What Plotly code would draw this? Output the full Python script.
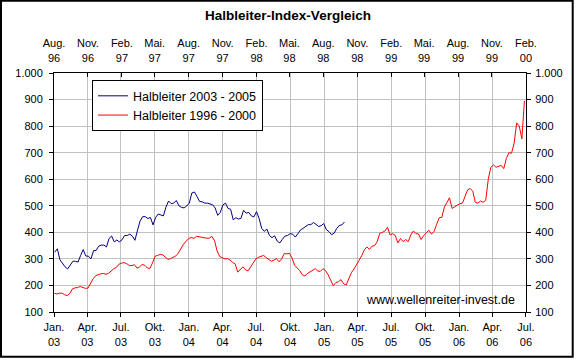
import pandas as pd
import plotly.graph_objects as go

# ---------------- data ----------------
blue_name = "Halbleiter 2003 - 2005"
red_name = "Halbleiter 1996 - 2000"

# weekly closes, 2003 - 2005 (bottom time axis)
blue_start = "2003-01-03"
blue_values = [
    325, 338, 297, 284, 270, 262, 278, 291, 291, 288,
    313, 335, 311, 310, 300, 331, 332, 348, 352, 352,
    345, 377, 386, 364, 371, 364, 372, 388, 388, 393,
    386, 370, 408, 443, 459, 459, 452, 456, 428, 456,
    469, 464, 462, 495, 518, 508, 510, 520, 500, 494,
    492, 499, 510, 548, 552, 535,
    516, 515, 510, 510, 507, 504, 492, 464, 475, 503,
    510, 490, 487, 447, 455, 450, 453, 483, 472, 475,
    462, 458, 478, 452, 415, 404, 412, 388, 380, 387,
    367, 360, 374, 386, 388, 395, 393, 382, 395, 409,
    415, 422, 429, 429, 437, 430, 422, 425, 433, 410,
    403, 391, 397, 414, 426, 428, 439,
]

# weekly closes, 1996 - 2000 (top time axis)
red_start = "1996-08-02"
red_values = [
    171, 168, 171, 171, 165, 162, 170, 187, 191, 192,
    196, 193, 189, 190, 210, 225, 237, 241, 244, 245,
    242, 246, 255, 263, 268, 280, 284, 286, 282, 275,
    275, 278, 265, 270, 279, 276, 266, 264, 285, 310,
    313, 317, 315, 305, 298, 301, 306, 311, 322, 340,
    355, 367, 376, 381, 377, 385,
    383, 382, 378, 378, 378, 385, 369, 330, 309, 305,
    300, 301, 296, 287, 281, 250, 262, 270, 259, 255,
    270, 284, 300, 306, 309, 313, 305, 298, 291, 295,
    301, 289, 300, 320, 319, 321, 304, 276, 265, 256,
    240, 236, 245, 250, 256, 263, 254, 253, 263, 256,
    240, 217, 199, 211, 214, 222, 206, 202,
    226, 248, 262, 276, 295, 312, 334, 345, 336, 348,
    350, 365, 397, 400, 405, 419, 390, 395, 388, 360,
    377, 365, 373, 365, 390, 405, 395, 394, 373, 388,
    400, 408, 393, 403, 430, 455, 456, 495, 512, 530,
    490, 496, 500, 508, 510, 533, 560, 565, 555, 512,
    510, 518, 513, 520, 600, 645, 654, 645, 648, 652,
    640, 678, 700, 698, 735, 812, 800, 752, 895,
]

bottom_range = ["2003-01-01", "2006-07-01 06:00"]
bottom_tick_dates = [
    "2003-01-01", "2003-04-01", "2003-07-01", "2003-10-01",
    "2004-01-01", "2004-04-01", "2004-07-01", "2004-10-01",
    "2005-01-01", "2005-04-01", "2005-07-01", "2005-10-01",
    "2006-01-01", "2006-04-01", "2006-07-01",
]
bottom_tick_labels = [
    "Jan.<br>03", "Apr.<br>03", "Jul.<br>03", "Okt.<br>03",
    "Jan.<br>04", "Apr.<br>04", "Jul.<br>04", "Okt.<br>04",
    "Jan.<br>05", "Apr.<br>05", "Jul.<br>05", "Okt.<br>05",
    "Jan.<br>06", "Apr.<br>06", "Jul.<br>06",
]

top_range = ["1996-08-01", "2000-02-01 06:00"]
top_tick_dates = [
    "1996-08-01", "1996-11-01", "1997-02-01", "1997-05-01",
    "1997-08-01", "1997-11-01", "1998-02-01", "1998-05-01",
    "1998-08-01", "1998-11-01", "1999-02-01", "1999-05-01",
    "1999-08-01", "1999-11-01", "2000-02-01",
]
top_tick_labels = [
    "Aug.<br>96", "Nov.<br>96", "Feb.<br>97", "Mai.<br>97",
    "Aug.<br>97", "Nov.<br>97", "Feb.<br>98", "Mai.<br>98",
    "Aug.<br>98", "Nov.<br>98", "Feb.<br>99", "Mai.<br>99",
    "Aug.<br>99", "Nov.<br>99", "Feb.<br>00",
]

y_range = [100, 1000]
title_text = "Halbleiter-Index-Vergleich"
source_text = "www.wellenreiter-invest.de"

# ---------------- figure ----------------
blue_dates = pd.date_range(blue_start, periods=len(blue_values), freq="7D")
red_dates = pd.date_range(red_start, periods=len(red_values), freq="7D")

FONT = "Liberation Sans, Arial, sans-serif"
GRID = "#C0C0C0"

fig = go.Figure()
fig.add_trace(go.Scatter(x=blue_dates, y=blue_values, name=blue_name, mode="lines",
                         line=dict(color="#000080", width=1), xaxis="x", yaxis="y"))
fig.add_trace(go.Scatter(x=red_dates, y=red_values, name=red_name, mode="lines",
                         line=dict(color="#FF0000", width=1), xaxis="x2", yaxis="y"))
fig.add_trace(go.Scatter(x=[], y=[], xaxis="x", yaxis="y2", showlegend=False, hoverinfo="skip"))

tickfont = dict(family=FONT, size=11, color="black")

fig.update_layout(
    width=576, height=360,
    margin=dict(l=54, r=50, t=73, b=48, pad=0),
    paper_bgcolor="white", plot_bgcolor="white",
    separators=",.",
    font=dict(family=FONT, size=11, color="black"),
    title=dict(text="<b>" + title_text + "</b>", x=0.5, xref="container", xanchor="center",
               y=1 - 15.5 / 360, yref="container", yanchor="middle",
               font=dict(family=FONT, size=13.5, color="black")),
    xaxis=dict(type="date", range=bottom_range, tickmode="array",
               tickvals=bottom_tick_dates, ticktext=bottom_tick_labels,
               showgrid=True, gridcolor=GRID, gridwidth=1,
               showline=True, linecolor="black", linewidth=1,
               ticks="outside", ticklen=4, tickcolor="black",
               tickfont=tickfont, zeroline=False, ticklabelstandoff=1),
    xaxis2=dict(type="date", range=top_range, overlaying="x", side="top", anchor="y",
                tickmode="array", tickvals=top_tick_dates, ticktext=top_tick_labels,
                showgrid=False, showline=True, linecolor="black", linewidth=1,
                ticks="inside", ticklen=4, tickcolor="black",
                tickfont=tickfont, zeroline=False, ticklabelstandoff=6),
    yaxis=dict(range=y_range, dtick=100, tickformat=",d",
               showgrid=True, gridcolor=GRID, gridwidth=1,
               showline=True, linecolor="black", linewidth=1,
               ticks="outside", ticklen=4, tickcolor="black",
               tickfont=tickfont, zeroline=False, ticklabelstandoff=4),
    yaxis2=dict(range=y_range, dtick=100, tickformat=",d", overlaying="y", side="right",
                anchor="x", showgrid=False,
                showline=True, linecolor="black", linewidth=1,
                ticks="outside", ticklen=4, tickcolor="black",
                tickfont=tickfont, zeroline=False, ticklabelstandoff=2),
    legend=dict(x=(92 - 54) / 472, y=(312.3 - 80.5) / 239, xanchor="left", yanchor="top",
                bgcolor="white", bordercolor="black", borderwidth=1,
                font=dict(family=FONT, size=12.5, color="black"),
                tracegroupgap=0),
    showlegend=True,
)

fig.add_annotation(text=source_text, xref="paper", yref="paper",
                   x=(440 - 54) / 472, y=(312.3 - 300.7) / 239,
                   xanchor="center", yanchor="middle", showarrow=False,
                   font=dict(family=FONT, size=12.5, color="black"))

# chart-area frame
fig.add_shape(type="rect", xref="paper", yref="paper",
              x0=(1 - 54) / 472, x1=(572.7 - 54) / 472,
              y0=(312.3 - 357) / 239, y1=(312.3 - 1) / 239,
              line=dict(color="black", width=2), fillcolor="rgba(0,0,0,0)", layer="above")

fig.write_html("out.html",
               config={"displayModeBar": False},
               post_script="document.body.style.margin='0';document.body.style.padding='0';")
